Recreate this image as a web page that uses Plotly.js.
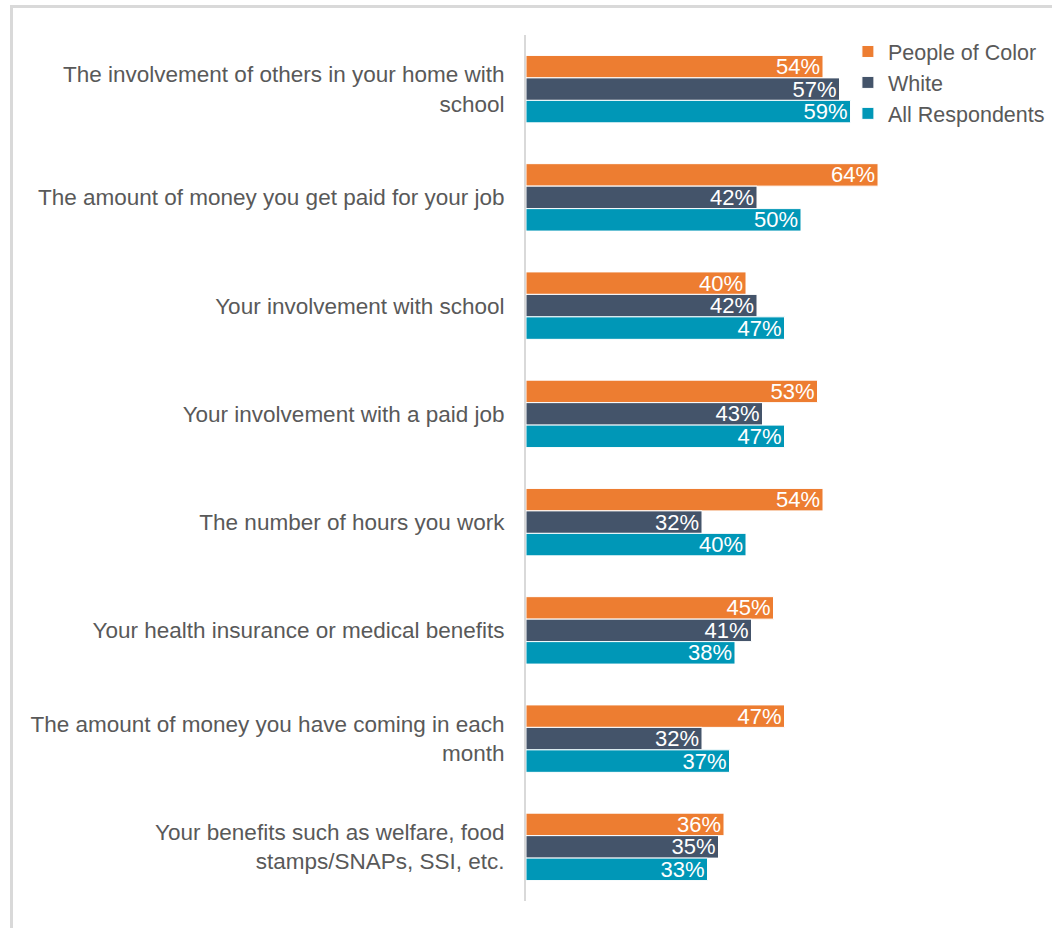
<!DOCTYPE html>
<html>
<head>
<meta charset="utf-8">
<script src="https://cdn.plot.ly/plotly-3.0.1.min.js"></script>
<style>
html,body{margin:0;padding:0;background:#fff;overflow:hidden;width:1052px;height:928px;}
#frame{position:absolute;left:10px;top:5px;width:1042px;height:923px;border-left:3px solid #d9d9d9;border-top:3px solid #d9d9d9;box-sizing:border-box;pointer-events:none;z-index:5;}
#chart{position:absolute;left:0;top:0;width:1052px;height:928px;}
</style>
</head>
<body>
<div id="frame"></div>
<div id="chart"></div>
<script>
const categories = [
  "The involvement of others in your home with<br>school",
  "The amount of money you get paid for your job",
  "Your involvement with school",
  "Your involvement with a paid job",
  "The number of hours you work",
  "Your health insurance or medical benefits",
  "The amount of money you have coming in each<br>month",
  "Your benefits such as welfare, food<br>stamps/SNAPs, SSI, etc."
];
const seriesNames = ["People of Color", "White", "All Respondents"];
const peopleOfColor = [54, 64, 40, 53, 54, 45, 47, 36];
const white = [57, 42, 42, 43, 32, 41, 32, 35];
const allRespondents = [59, 50, 47, 47, 40, 38, 37, 33];
const colors = ["#ED7D31", "#44546A", "#0097B7"];

const values = [peopleOfColor, white, allRespondents];
const traces = values.map((v, i) => ({
  type: "bar",
  orientation: "h",
  name: seriesNames[i],
  y: categories,
  x: v,
  text: v.map(d => d + "%"),
  textposition: "inside",
  insidetextanchor: "end",
  constraintext: "none",
  textfont: {color: "#ffffff", size: 22, family: "Liberation Sans, Arial, sans-serif"},
  marker: {color: colors[i], line: {color: "#ffffff", width: 1}},
  hoverinfo: "x+y"
}));

const layout = {
  width: 1052,
  height: 928,
  margin: {l: 526, r: 12, t: 35, b: 27, autoexpand: false},
  paper_bgcolor: "#ffffff",
  plot_bgcolor: "#ffffff",
  barmode: "group",
  bargap: 0.377,
  bargroupgap: 0,
  font: {family: "Liberation Sans, Arial, sans-serif", color: "#595959"},
  xaxis: {
    range: [0, 93.45],
    showgrid: false,
    zeroline: false,
    showline: false,
    showticklabels: false,
    ticks: ""
  },
  yaxis: {
    autorange: "reversed",
    showgrid: false,
    zeroline: false,
    showline: true,
    linecolor: "#d9d9d9",
    linewidth: 2,
    ticks: "",
    ticklabelstandoff: 15,
    tickfont: {size: 22.5, color: "#595959"}
  },
  legend: {
    xref: "container",
    yref: "container",
    x: 0.806,
    xanchor: "left",
    y: 0.9666,
    yanchor: "top",
    font: {size: 21.5, color: "#595959"},
    tracegroupgap: 0,
    itemwidth: 30,
    bgcolor: "rgba(0,0,0,0)"
  },
  showlegend: true
};

Plotly.newPlot("chart", traces, layout, {displayModeBar: false, staticPlot: true});
</script>
</body>
</html>
